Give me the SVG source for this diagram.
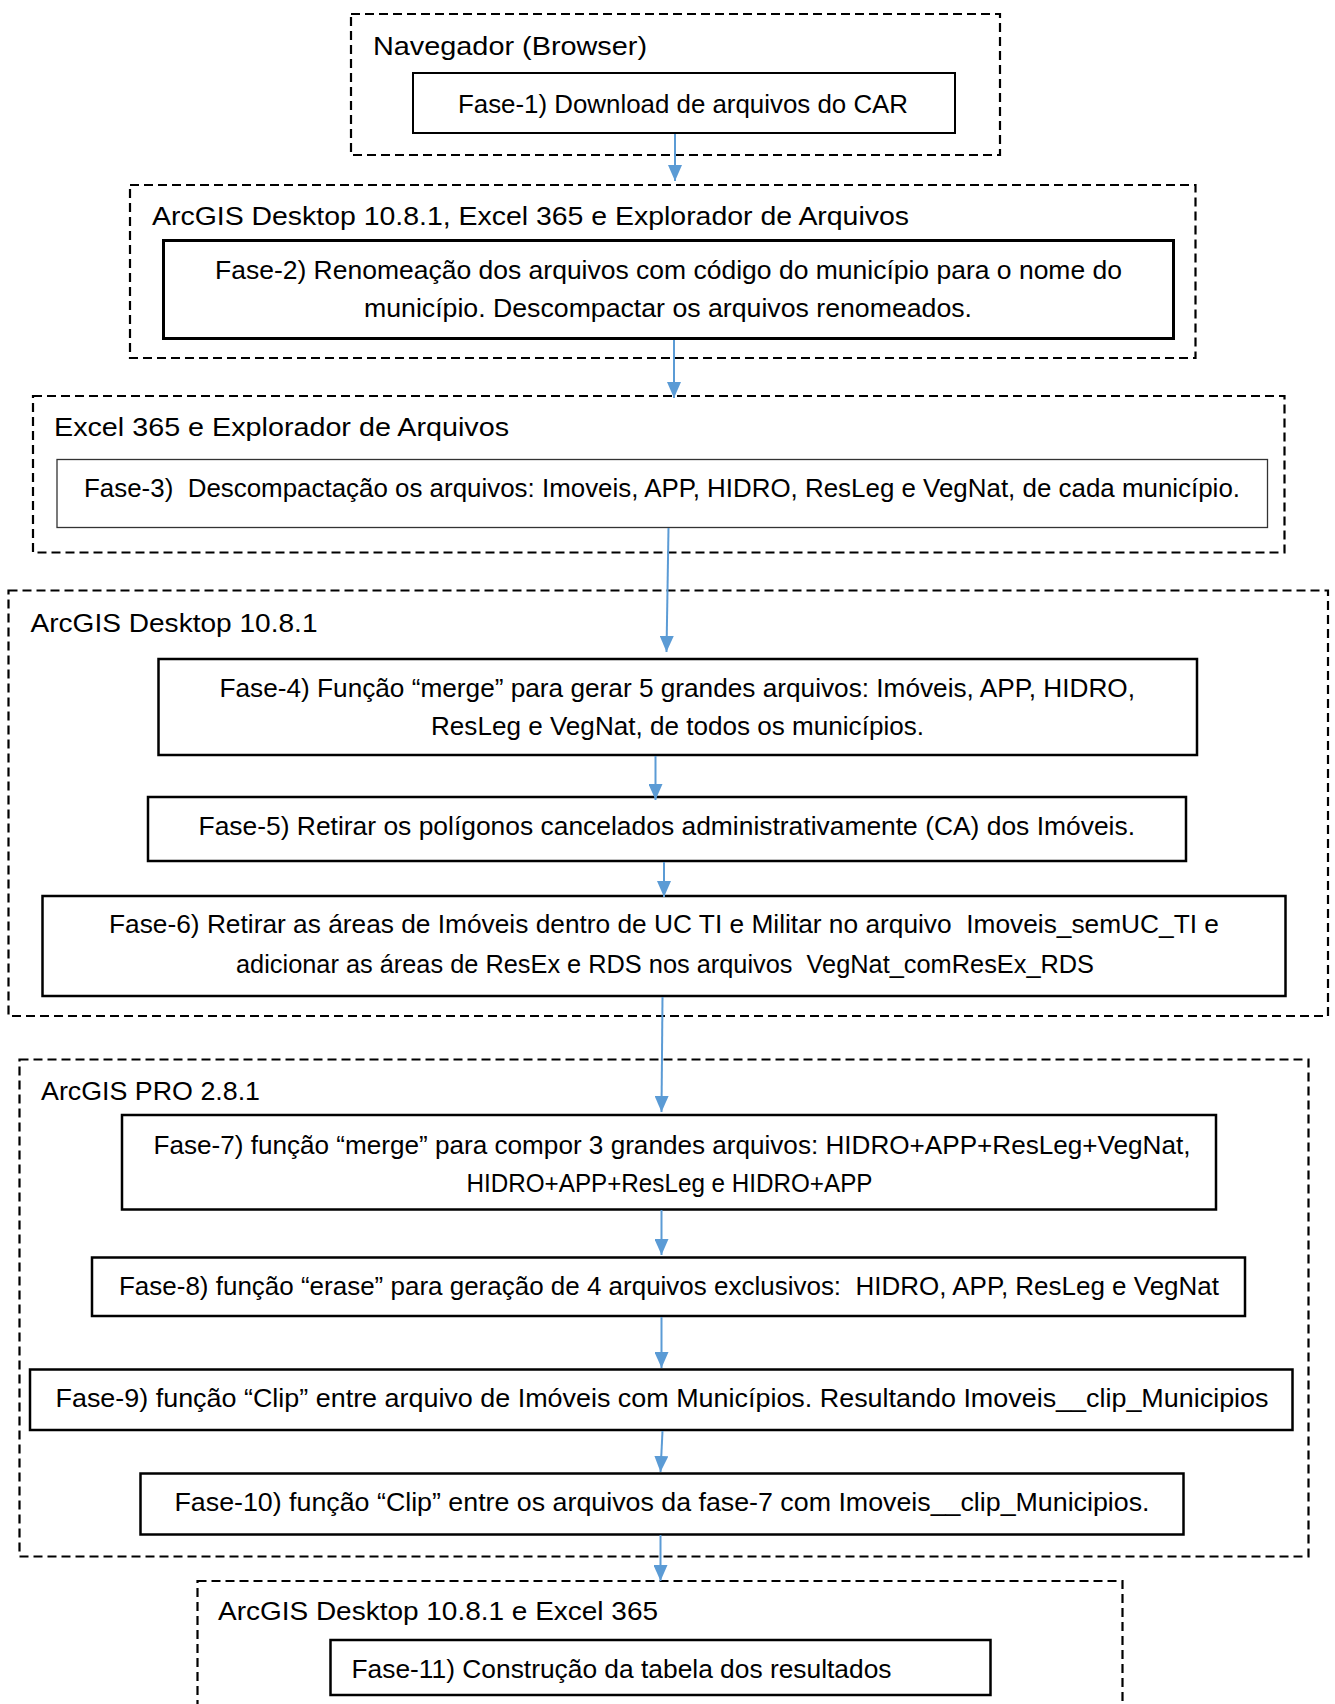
<svg xmlns="http://www.w3.org/2000/svg" width="1335" height="1704" viewBox="0 0 1335 1704">
<style>
.bg{fill:#ffffff}
.grp{fill:none;stroke:#000;stroke-width:2.2;stroke-dasharray:9 5}
.box{fill:#fff;stroke:#000;stroke-width:2.5}
.thin{fill:#fff;stroke:#333;stroke-width:1.3}
text{font-family:"Liberation Sans",Arial,sans-serif;font-size:26px;fill:#000;white-space:pre}
.arr{stroke:#5B9BD5;stroke-width:2;fill:none;marker-end:url(#ah)}
</style>
<defs>
<marker id="ah" markerUnits="userSpaceOnUse" markerWidth="16" markerHeight="14" refX="16" refY="7" orient="auto">
<path d="M0,0 L16,7 L0,14 z" fill="#5B9BD5"/>
</marker>
</defs>
<rect class="bg" x="0" y="0" width="1335" height="1704"/>

<g id="grupo-navegador">
<rect class="grp" x="351" y="14" width="649" height="141"/>
<text x="373" y="55" textLength="274" lengthAdjust="spacingAndGlyphs">Navegador (Browser)</text>
</g>
<g id="fase1">
<rect class="box" x="413" y="73" width="542" height="60" style="stroke-width:2"/>
<text x="458" y="113" textLength="450" lengthAdjust="spacingAndGlyphs">Fase-1) Download de arquivos do CAR</text>
</g>

<g id="grupo-arcgis-excel-explorador">
<rect class="grp" x="130" y="185" width="1065.5" height="173"/>
<text x="152" y="225" textLength="757" lengthAdjust="spacingAndGlyphs">ArcGIS Desktop 10.8.1, Excel 365 e Explorador de Arquivos</text>
</g>
<g id="fase2">
<rect class="box" x="163.5" y="240.5" width="1010" height="98" style="stroke-width:3"/>
<text x="215" y="279" textLength="907" lengthAdjust="spacingAndGlyphs">Fase-2) Renomeação dos arquivos com código do município para o nome do</text>
<text x="364" y="316.5" textLength="608" lengthAdjust="spacingAndGlyphs">município. Descompactar os arquivos renomeados.</text>
</g>

<g id="grupo-excel-explorador">
<rect class="grp" x="33" y="396" width="1251.5" height="156.5"/>
<text x="54" y="436" textLength="455" lengthAdjust="spacingAndGlyphs">Excel 365 e Explorador de Arquivos</text>
</g>
<g id="fase3">
<rect class="thin" x="57" y="459.5" width="1210.5" height="68"/>
<text x="84" y="497" textLength="1156" lengthAdjust="spacingAndGlyphs" xml:space="preserve">Fase-3)  Descompactação os arquivos: Imoveis, APP, HIDRO, ResLeg e VegNat, de cada município.</text>
</g>

<g id="grupo-arcgis-desktop">
<rect class="grp" x="8.5" y="590.5" width="1319.5" height="425.5"/>
<text x="30.5" y="631.5" textLength="287" lengthAdjust="spacingAndGlyphs">ArcGIS Desktop 10.8.1</text>
</g>
<g id="fase4">
<rect class="box" x="158.5" y="659" width="1038.5" height="96"/>
<text x="219.5" y="697" textLength="915.5" lengthAdjust="spacingAndGlyphs">Fase-4) Função “merge” para gerar 5 grandes arquivos: Imóveis, APP, HIDRO,</text>
<text x="431" y="735" textLength="493" lengthAdjust="spacingAndGlyphs">ResLeg e VegNat, de todos os municípios.</text>
</g>
<g id="fase5">
<rect class="box" x="148" y="797" width="1038" height="64"/>
<text x="198.5" y="835" textLength="936.5" lengthAdjust="spacingAndGlyphs">Fase-5) Retirar os polígonos cancelados administrativamente (CA) dos Imóveis.</text>
</g>
<g id="fase6">
<rect class="box" x="42.5" y="896" width="1243" height="100"/>
<text x="109" y="933" textLength="1110" lengthAdjust="spacingAndGlyphs" xml:space="preserve">Fase-6) Retirar as áreas de Imóveis dentro de UC TI e Militar no arquivo  Imoveis_semUC_TI e</text>
<text x="236" y="972.5" textLength="858" lengthAdjust="spacingAndGlyphs" xml:space="preserve">adicionar as áreas de ResEx e RDS nos arquivos  VegNat_comResEx_RDS</text>
</g>

<g id="grupo-arcgis-pro">
<rect class="grp" x="19.5" y="1059.5" width="1289" height="497"/>
<text x="41" y="1099.5" textLength="219" lengthAdjust="spacingAndGlyphs">ArcGIS PRO 2.8.1</text>
</g>
<g id="fase7">
<rect class="box" x="122" y="1115" width="1094" height="94.5"/>
<text x="153.5" y="1153.5" textLength="1037" lengthAdjust="spacingAndGlyphs">Fase-7) função “merge” para compor 3 grandes arquivos: HIDRO+APP+ResLeg+VegNat,</text>
<text x="466.5" y="1191.5" textLength="406" lengthAdjust="spacingAndGlyphs">HIDRO+APP+ResLeg e HIDRO+APP</text>
</g>
<g id="fase8">
<rect class="box" x="92" y="1257.5" width="1153" height="58.5"/>
<text x="119" y="1295" textLength="1100" lengthAdjust="spacingAndGlyphs" xml:space="preserve">Fase-8) função “erase” para geração de 4 arquivos exclusivos:  HIDRO, APP, ResLeg e VegNat</text>
</g>
<g id="fase9">
<rect class="box" x="30" y="1369.5" width="1262.5" height="60.5"/>
<text x="55.5" y="1406.5" textLength="1213" lengthAdjust="spacingAndGlyphs">Fase-9) função “Clip” entre arquivo de Imóveis com Municípios. Resultando Imoveis__clip_Municipios</text>
</g>
<g id="fase10">
<rect class="box" x="140.5" y="1473.5" width="1043" height="61"/>
<text x="174.5" y="1510.5" textLength="975" lengthAdjust="spacingAndGlyphs">Fase-10) função “Clip” entre os arquivos da fase-7 com Imoveis__clip_Municipios.</text>
</g>

<g id="grupo-arcgis-excel">
<rect class="grp" x="197.5" y="1581" width="925" height="140"/>
<text x="218" y="1620" textLength="440" lengthAdjust="spacingAndGlyphs">ArcGIS Desktop 10.8.1 e Excel 365</text>
</g>
<g id="fase11">
<rect class="box" x="330.5" y="1640" width="660" height="55"/>
<text x="351.5" y="1678" textLength="540" lengthAdjust="spacingAndGlyphs">Fase-11) Construção da tabela dos resultados</text>
</g>

<g id="conectores">
<line class="arr" x1="675" y1="134" x2="675" y2="181"/>
<line class="arr" x1="674" y1="340" x2="674" y2="398"/>
<line class="arr" x1="668.5" y1="528" x2="666.5" y2="652"/>
<line class="arr" x1="655.5" y1="756" x2="655.5" y2="800"/>
<line class="arr" x1="664" y1="862" x2="664" y2="897"/>
<line class="arr" x1="662.5" y1="997" x2="661.5" y2="1112"/>
<line class="arr" x1="661.5" y1="1210" x2="661.5" y2="1255"/>
<line class="arr" x1="661.5" y1="1317" x2="661.5" y2="1368"/>
<line class="arr" x1="662.5" y1="1431" x2="660.5" y2="1472"/>
<line class="arr" x1="660.5" y1="1535" x2="660.5" y2="1581"/>
</g>
</svg>
